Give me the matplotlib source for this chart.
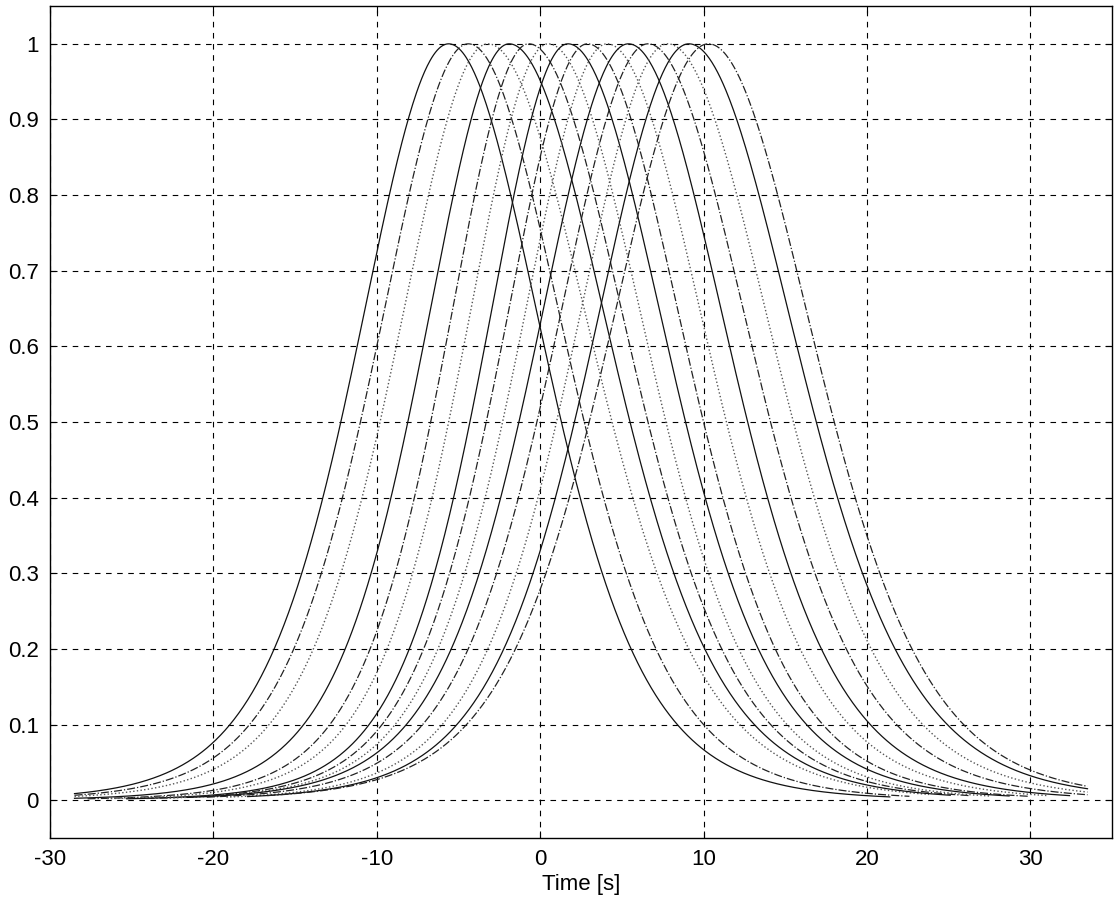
import numpy as np
import matplotlib
matplotlib.use("Agg")
import matplotlib.pyplot as plt

plt.rcParams['font.family'] = ['Liberation Sans', 'DejaVu Sans']

# Peak time, 0.5-crossing on rising side, 0.5-crossing on falling side
peak_time = [-5.6, -4.4, -3.2, -1.9, -0.7, 0.5, 1.7, 2.9, 4.1, 5.4, 6.6, 7.8, 9.1, 10.3]
rise_half = [-12.2, -11.0, -9.8, -8.1, -6.7, -5.6, -4.3, -3.3, -2.3, -1.3, -0.2, 1.0, 2.1, 3.0]
fall_half = [1.3, 2.7, 4.4, 5.5, 6.6, 7.7, 8.9, 10.0, 11.4, 12.7, 14.1, 15.5, 16.9, 18.0]
tail_order = 4.0   # Pearson-VII order: bell core with slightly heavier tails
span = 27.0        # each curve drawn over peak +/- span
t_first, t_last = -28.5, 33.5   # time range covered by the recorded curves

x_ticks = [-30, -20, -10, 0, 10, 20, 30]
y_ticks = [0, 0.1, 0.2, 0.3, 0.4, 0.5, 0.6, 0.7, 0.8, 0.9, 1]
y_ticklabels = ['0', '0.1', '0.2', '0.3', '0.4', '0.5', '0.6', '0.7', '0.8', '0.9', '1']

fig = plt.figure(figsize=(11.15, 9.08), dpi=100)
ax = fig.add_axes([50/1115, 1 - 838/908, (1112-50)/1115, (838-6)/908])

styles = [('-', '#111111', 0.9), ('-.', '#222222', 0.9), (':', '#555555', 1.0)]
k = 2 ** (1 / tail_order) - 1
for i, (c, r, f) in enumerate(zip(peak_time, rise_half, fall_half)):
    t = np.linspace(max(c - span, t_first), min(c + span, t_last), 900)
    half = np.where(t < c, c - r, f - c)
    y = (1 + k * ((t - c) / half) ** 2) ** (-tail_order)
    ls, col, lw = styles[i % len(styles)]
    ax.plot(t, y, linestyle=ls, color=col, linewidth=lw, zorder=3)

ax.set_xlim(-30, 35)
ax.set_ylim(-0.05, 1.05)
ax.set_xticks(x_ticks)
ax.set_xticklabels([str(v) for v in x_ticks])
ax.set_yticks(y_ticks)
ax.set_yticklabels(y_ticklabels)
ax.grid(True, color='black', linestyle=(0, (5, 5)), linewidth=0.8, zorder=1)
ax.tick_params(direction='in', top=True, right=True, labelsize=16, length=5, pad=8)
for s in ax.spines.values():
    s.set_linewidth(1.0)
    s.set_color('black')
ax.set_xlabel('Time [s]', fontsize=16, labelpad=3)

fig.savefig('out.png', dpi=100)
